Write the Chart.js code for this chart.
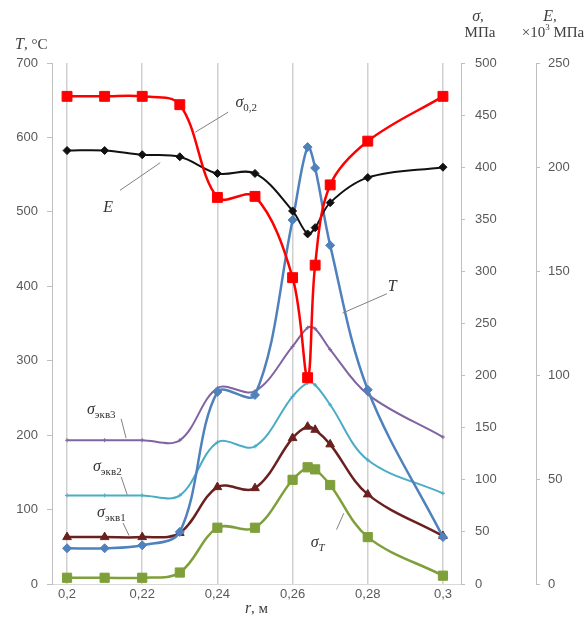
<!DOCTYPE html>
<html>
<head>
<meta charset="utf-8">
<script src="https://cdn.jsdelivr.net/npm/chart.js@4.4.0/dist/chart.umd.min.js"></script>
<style>
  html, body { margin: 0; padding: 0; background: #fff; }
  #wrap { width: 588px; height: 633px; }
</style>
</head>
<body>
<div id="wrap"><canvas id="chart" width="588" height="633"></canvas></div>
<script>
// radius r, m
const rVals = [0.2, 0.21, 0.22, 0.23, 0.24, 0.25, 0.26, 0.264, 0.266, 0.27, 0.28, 0.3];

// MPa (middle axis)
const sigma02 = [468, 468, 468, 460, 371, 372, 294, 198, 306, 383, 425, 468];
const sigEkv3 = [138, 138, 138, 138, 188, 185, 228, 246, 245, 225, 182, 141];
const sigEkv2 = [85, 85, 85, 85, 136, 132, 180, 193, 191, 172, 119, 87];
const sigEkv1 = [45, 45, 45, 49, 93, 92, 140, 151, 148, 134, 86, 46];
const sigT    = [6, 6, 6, 11, 54, 54, 100, 112, 110, 95, 45, 8];

// x10^3 MPa (right axis)
const modE = [208, 208, 206, 205, 197, 197, 179, 168, 171, 183, 195, 200];

// °C (left axis)
const tempT = [48, 48, 52, 70, 258, 254, 489, 587, 559, 455, 261, 63];

const xTicks = [0.2, 0.22, 0.24, 0.26, 0.28, 0.3];
const tTicks = [0, 100, 200, 300, 400, 500, 600, 700];
const sTicks = [0, 50, 100, 150, 200, 250, 300, 350, 400, 450, 500];
const eTicks = [0, 50, 100, 150, 200, 250];

const serif = '"Liberation Serif", "DejaVu Serif", serif';
const sans = '"Liberation Sans", Arial, sans-serif';
const axisGrey = '#bfbfbf';
const tickColor = '#595959';

// in-chart labels: text runs, anchor (r, T) and leader line (r1, T1, r2, T2)
const notes = [
  { runs: [['σ', 'i'], ['0,2', 'sub']], r: 0.2448, t: 646, lead: [0.2429, 634, 0.2341, 607] },
  { runs: [['E', 'i']], r: 0.2096, t: 506, lead: [0.2141, 529, 0.2248, 566] },
  { runs: [['T', 'i']], r: 0.2853, t: 399, lead: [0.2851, 390, 0.2733, 364] },
  { runs: [['σ', 'i'], ['экв3', 'sub']], r: 0.2053, t: 234, lead: [0.2144, 222, 0.2157, 196] },
  { runs: [['σ', 'i'], ['экв2', 'sub']], r: 0.2069, t: 157, lead: [0.2144, 144, 0.2160, 120] },
  { runs: [['σ', 'i'], ['экв1', 'sub']], r: 0.2080, t: 95, lead: [0.2149, 82, 0.2165, 65] },
  { runs: [['σ', 'i'], ['T', 'subi']], r: 0.2648, t: 55, lead: [0.2717, 73, 0.2736, 95] }
];

function drawRuns(ctx, x, y, runs, align) {
  const fonts = {
    i: 'italic 16px ' + serif,
    n: '15px ' + serif,
    sub: '11px ' + serif,
    subi: 'italic 11px ' + serif,
    sup: '9px ' + serif
  };
  let total = 0;
  runs.forEach(([t, k]) => { ctx.font = fonts[k]; total += ctx.measureText(t).width; });
  let cx = align === 'center' ? x - total / 2 : (align === 'right' ? x - total : x);
  ctx.textAlign = 'left';
  ctx.textBaseline = 'middle';
  runs.forEach(([t, k]) => {
    ctx.font = fonts[k];
    const dy = k.indexOf('sub') === 0 ? 5 : (k === 'sup' ? -5 : 0);
    ctx.fillText(t, cx, y + dy);
    cx += ctx.measureText(t).width;
  });
}

const labelsPlugin = {
  id: 'labels',
  afterDraw(chart) {
    const ctx = chart.ctx;
    const { x, y, yS, yE } = chart.scales;
    const area = chart.chartArea;
    ctx.save();

    // leader lines and curve names
    ctx.strokeStyle = '#808080';
    ctx.lineWidth = 1;
    ctx.fillStyle = '#333';
    notes.forEach(n => {
      const l = n.lead;
      ctx.beginPath();
      ctx.moveTo(x.getPixelForValue(l[0]), y.getPixelForValue(l[1]));
      ctx.lineTo(x.getPixelForValue(l[2]), y.getPixelForValue(l[3]));
      ctx.stroke();
      drawRuns(ctx, x.getPixelForValue(n.r), y.getPixelForValue(n.t), n.runs, 'left');
    });

    // axis headers
    ctx.fillStyle = '#404040';
    drawRuns(ctx, area.left - 37, area.top - 18, [['T', 'i'], [', °C', 'n']], 'left');
    drawRuns(ctx, yS.left + 17, area.top - 46, [['σ', 'i'], [',', 'n']], 'center');
    drawRuns(ctx, yS.left + 19, area.top - 30, [['МПа', 'n']], 'center');
    drawRuns(ctx, yE.left + 14, area.top - 46, [['E', 'i'], [',', 'n']], 'center');
    drawRuns(ctx, yE.left + 17, area.top - 30, [['×10', 'n'], ['3', 'sup'], [' МПа', 'n']], 'center');
    drawRuns(ctx, (area.left + area.right) / 2, 609, [['r', 'i'], [', м', 'n']], 'center');
    ctx.restore();
  }
};

function series(label, vals, axis, color, style, radius, width) {
  return {
    label: label,
    yAxisID: axis,
    data: rVals.map((r, i) => ({ x: r, y: vals[i] })),
    borderColor: color,
    backgroundColor: color,
    pointStyle: style,
    pointRadius: radius,
    pointHoverRadius: radius,
    pointBorderWidth: 1,
    borderWidth: width,
    tension: 0.35,
    fill: false
  };
}

function fixedTicks(list) {
  return scale => { scale.ticks = list.map(v => ({ value: v })); };
}

const yAxisBase = (min, max, list, pos, w, tl, pad) => ({
  type: 'linear',
  position: pos,
  min: min,
  max: max,
  afterBuildTicks: fixedTicks(list),
  afterFit: s => { s.width = w; },
  grid: { drawOnChartArea: false, color: axisGrey, tickLength: tl },
  border: { color: axisGrey, width: 1 },
  ticks: { color: tickColor, padding: pad, font: { family: sans, size: 13 } }
});

new Chart(document.getElementById('chart'), {
  type: 'line',
  data: {
    datasets: [
      series('σ0,2', sigma02, 'yS', '#ff0000', 'rect', 7, 2.5),
      series('E', modE, 'yE', '#111111', 'rectRot', 4, 2),
      series('T', tempT, 'y', '#4f81bd', 'rectRot', 4.5, 2.5),
      series('σэкв1', sigEkv1, 'yS', '#6b2020', 'triangle', 5, 2.5),
      series('σT', sigT, 'yS', '#7f9f3a', 'rect', 6.5, 2.5),
      series('σэкв2', sigEkv2, 'yS', '#4bacc6', 'cross', 2, 2),
      series('σэкв3', sigEkv3, 'yS', '#8064a2', 'cross', 2, 2)
    ]
  },
  options: {
    responsive: false,
    devicePixelRatio: 1,
    animation: false,
    layout: { padding: { top: 63, left: 0, right: 0, bottom: 0 } },
    plugins: {
      legend: { display: false },
      tooltip: { enabled: false }
    },
    scales: {
      x: {
        type: 'linear',
        min: 0.196,
        max: 0.3048,
        afterBuildTicks: fixedTicks(xTicks),
        afterFit: s => { s.height = 49; },
        grid: { color: '#d0d0d0', lineWidth: 1.5, drawTicks: false },
        border: { color: '#d9d9d9', width: 1 },
        ticks: {
          color: tickColor,
          padding: 3,
          maxRotation: 0,
          font: { family: sans, size: 13 },
          callback: v => String(+v.toFixed(2)).replace('.', ',')
        }
      },
      y: yAxisBase(0, 700, tTicks, 'left', 52, 5, 9),
      yS: yAxisBase(0, 500, sTicks, 'right', 75, 4, 10),
      yE: yAxisBase(0, 250, eTicks, 'right', 52, 4, 8)
    }
  },
  plugins: [labelsPlugin]
});
</script>
</body>
</html>
